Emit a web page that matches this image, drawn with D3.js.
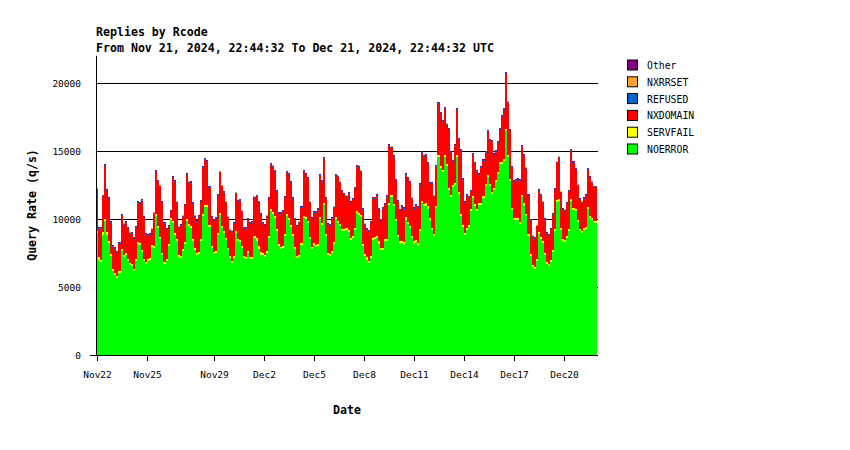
<!DOCTYPE html>
<html>
<head>
<meta charset="utf-8">
<script src="https://cdn.jsdelivr.net/npm/d3@7"></script>
<style>
  body { margin: 0; background: #fff; }
  text { font-family: "DejaVu Sans Mono", monospace; }
</style>
</head>
<body>
<div id="chart"></div>
<script>
// series, one value per column (~3h)
var noerror = [
  8970, 7010, 6840, 8850, 9830, 8850, 8240, 7260, 6150, 5910, 5660, 6030, 7670, 7180, 7330, 6890, 6640, 6520, 6200, 6890,
  8190, 8090, 7550, 6890, 6690, 6890, 7010, 7920, 7870, 10250, 9340, 8530, 7330, 6690, 6890, 7990, 9900, 9710, 8850, 8410,
  7180, 7130, 7620, 8190, 9830, 9460, 9340, 8360, 7750, 7380, 7450, 8410, 10250, 10860, 10860, 9410, 7870, 7430, 7500, 8850,
  10320, 9340, 8970, 8430, 7750, 7130, 6770, 7130, 8970, 8360, 8310, 7870, 7130, 7060, 7500, 7060, 7080, 8600, 8410, 7820, 7380,
  7330, 7180, 7500, 8600, 10610, 10370, 10070, 9090, 7990, 7790, 7870, 8730, 10200, 9950, 9410, 8730, 7820, 7130, 7210, 8060,
  10070, 10000, 9710, 8530, 7790, 8110, 7920, 7990, 10000, 9530, 11050, 8770, 7330, 7260, 7500, 8190, 10000, 9710, 9460, 9090, 9090, 9170,
  9020, 8480, 8600, 9220, 10440, 10320, 10150, 7990, 7260, 7010, 6770, 7130, 8430, 8530, 8600, 8190, 7700, 7700, 8360, 8410,
  11050, 11590, 10980, 9880, 8680, 8190, 8240, 8110, 9950, 9630, 9340, 8600, 8190, 8280, 8040, 9090, 11180, 10930, 10980, 10760, 9880,
  9170, 8770, 10810, 14530, 13750, 13430, 14530, 13920, 12160, 11620, 12330, 12520, 14530, 11860, 10200, 9410, 8850, 9220, 9410, 10560,
  11540, 10930, 10560, 11050, 11050, 11540, 12450, 13110, 12430, 11840, 12160, 12720, 13330, 14070, 14070, 14240, 16450, 14530, 12820, 10640, 9900,
  9950, 9950, 9630, 11590, 10980, 10200, 8730, 7300, 6450, 6320, 6890, 8920, 8550, 8240, 7380, 6690, 6520, 6840, 7550, 9090,
  11250, 11300, 9220, 8360, 8280, 8600, 9140, 11350, 10690, 10560, 9780, 9140, 8970, 9220, 9260, 10760, 10070, 9950, 9710, 9710
];
var nxdomain = [
  3040, 2110, 2280, 2650, 3930, 3020, 3090, 2260, 1650, 1720, 1720, 2010, 2410, 2260, 2240, 2240, 2140, 2210, 2210, 2330,
  2870, 2870, 3630, 3070, 1990, 1700, 1670, 1160, 2380, 3070, 3260, 3710, 3680, 2820, 2160, 1300, 490, 3170, 3750, 2650,
  2040, 2210, 2410, 2630, 3260, 3070, 3140, 2580, 2280, 2240, 2580, 2720, 3340, 3340, 3170, 2700, 2090, 2310, 2360, 2700,
  2950, 2900, 2770, 2630, 2210, 1870, 2160, 2330, 2750, 2770, 2870, 2530, 1990, 2060, 2280, 2430, 2460, 2820, 3090, 3240, 2770,
  2160, 2160, 2530, 2700, 3210, 3340, 3260, 2770, 2240, 2430, 2480, 2700, 3070, 3140, 3070, 2580, 2010, 2160, 2380, 2580,
  3210, 3090, 3090, 2530, 2060, 2160, 2360, 2530, 3040, 3020, 3240, 2550, 2090, 2090, 2330, 2500, 3040, 3260, 3070, 2720, 2530, 2330,
  2650, 2530, 2650, 2820, 3210, 3390, 3190, 2530, 2160, 2040, 2090, 2410, 2900, 2800, 2950, 2330, 2010, 2870, 2530, 3020,
  4170, 3510, 3390, 2770, 2410, 2210, 2460, 2410, 3070, 3140, 3140, 2720, 2330, 2530, 2600, 3260, 3510, 3460, 3510, 3140, 2550,
  3260, 2720, 2850, 3750, 3830, 3560, 3390, 2870, 4240, 3070, 1740, 2700, 3340, 3800, 4690, 3310, 2160, 2330, 2010, 1250,
  3020, 2970, 2750, 2010, 2550, 2550, 2240, 3140, 3140, 3660, 2410, 2040, 2110, 2330, 3260, 3630, 4070, 3880, 3510, 2990, 2700,
  2650, 2770, 2970, 3510, 3460, 3340, 2820, 2360, 2110, 2060, 2410, 2990, 2990, 2820, 2410, 2060, 2110, 2210, 2600, 2900,
  2750, 3070, 2580, 2160, 2190, 2330, 2720, 3510, 3260, 2900, 2530, 2110, 2090, 2110, 2310, 2700, 2820, 2580, 2460, 2460
];
// thin layers, one value per day
var servfail = [160, 150, 140, 150, 150, 150, 140, 150, 150, 160, 150, 140, 150, 150, 150, 150, 160, 150, 170, 160, 150, 140, 150, 150, 150, 160, 150, 150, 150, 150];
var refused  = [70, 70, 70, 70, 70, 70, 70, 70, 70, 70, 70, 70, 70, 70, 70, 70, 80, 80, 90, 80, 80, 70, 70, 70, 70, 80, 70, 70, 70, 70];
var nxrrset  = [10, 10, 10, 10, 10, 10, 10, 10, 10, 10, 10, 10, 10, 10, 10, 10, 10, 10, 10, 10, 10, 10, 10, 10, 10, 10, 10, 10, 10, 10];
var other    = [60, 60, 60, 60, 60, 60, 60, 60, 60, 60, 60, 60, 60, 60, 60, 60, 60, 60, 60, 60, 60, 60, 60, 60, 60, 60, 60, 60, 60, 60];

var keys = ["NOERROR", "SERVFAIL", "NXDOMAIN", "REFUSED", "NXRRSET", "Other"];
var colors = { NOERROR: "#00ff00", SERVFAIL: "#ffff00", NXDOMAIN: "#ff0000", REFUSED: "#0066cc", NXRRSET: "#ffa030", Other: "#800080" };
var yTicks = [0, 5000, 10000, 15000, 20000];
var xTicks = ["2024-11-22", "2024-11-25", "2024-11-29", "2024-12-02", "2024-12-05", "2024-12-08", "2024-12-11", "2024-12-14", "2024-12-17", "2024-12-20"];

var start = Date.UTC(2024, 10, 21, 22, 44, 32);
var end = Date.UTC(2024, 11, 21, 22, 44, 32);
var n = noerror.length;
var step = (end - start) / n;

var rows = noerror.map(function (v, i) {
    var d = Math.floor(i * 30 / n);
    return { t: new Date(start + i * step), NOERROR: v, SERVFAIL: servfail[d], NXDOMAIN: nxdomain[i],
             REFUSED: refused[d], NXRRSET: nxrrset[d], Other: other[d] };
});
// closing point so the last step has its width
rows.push(Object.assign({}, rows[n - 1], { t: new Date(end) }));

var svg = d3.select("#chart").append("svg")
    .attr("width", 850).attr("height", 450)
    .style("background", "#fff");

var x = d3.scaleUtc().domain([new Date(start), new Date(end)]).range([96, 597]);
var y = d3.scaleLinear().domain([0, 22000]).range([355, 55.8]);

// grid lines sit behind the areas
svg.append("g").selectAll("line").data(yTicks).enter().append("line")
    .attr("x1", 96).attr("x2", 598)
    .attr("y1", function (d) { return Math.round(y(d)) + 0.5; })
    .attr("y2", function (d) { return Math.round(y(d)) + 0.5; })
    .attr("stroke", "#000").attr("stroke-width", 1);

var series = d3.stack().keys(keys)(rows);
var area = d3.area()
    .curve(d3.curveStepAfter)
    .x(function (d) { return x(d.data.t); })
    .y0(function (d) { return y(d[0]); })
    .y1(function (d) { return y(d[1]); });

svg.append("g").selectAll("path").data(series).enter().append("path")
    .attr("d", area)
    .attr("fill", function (d) { return colors[d.key]; })
    .attr("shape-rendering", "crispEdges");

// left axis line + zero tick
svg.append("line").attr("x1", 96.5).attr("x2", 96.5).attr("y1", y(22000)).attr("y2", 356)
    .attr("stroke", "#000");
svg.append("line").attr("x1", 90).attr("x2", 96).attr("y1", 355.5).attr("y2", 355.5)
    .attr("stroke", "#000");

svg.append("g").selectAll("text").data(yTicks).enter().append("text")
    .attr("x", 81).attr("y", function (d) { return y(d) + 3.5; })
    .attr("text-anchor", "end").attr("font-size", "9.5px")
    .text(function (d) { return d; });

// x ticks
var xg = svg.append("g");
xTicks.forEach(function (s) {
    var px = Math.round(x(new Date(s + "T00:00:00Z"))) + 0.5;
    xg.append("line").attr("x1", px).attr("x2", px).attr("y1", 355).attr("y2", 361).attr("stroke", "#000");
    xg.append("text").attr("x", px).attr("y", 378).attr("text-anchor", "middle").attr("font-size", "9.5px")
        .text(d3.utcFormat("%b%-d")(new Date(s + "T00:00:00Z")));
});

// titles
svg.append("text").attr("x", 96).attr("y", 36).attr("font-size", "11.6px").attr("font-weight", "bold")
    .text("Replies by Rcode");
svg.append("text").attr("x", 96).attr("y", 52).attr("font-size", "11.6px").attr("font-weight", "bold")
    .text("From Nov 21, 2024, 22:44:32 To Dec 21, 2024, 22:44:32 UTC");
svg.append("text").attr("x", 347).attr("y", 414).attr("text-anchor", "middle")
    .attr("font-size", "11.6px").attr("font-weight", "bold").text("Date");
svg.append("text").attr("transform", "translate(36,205) rotate(-90)").attr("text-anchor", "middle")
    .attr("font-size", "11.6px").attr("font-weight", "bold").text("Query Rate (q/s)");

// legend, top entry is the top layer
var legendKeys = keys.slice().reverse();
var lg = svg.append("g").selectAll("g").data(legendKeys).enter().append("g")
    .attr("transform", function (d, i) { return "translate(627," + (59.5 + i * 16.8) + ")"; });
lg.append("rect").attr("x", 0.5).attr("y", 0.5).attr("width", 10).attr("height", 10)
    .attr("fill", function (d) { return colors[d]; }).attr("stroke", "#000");
lg.append("text").attr("x", 20).attr("y", 9.5).attr("font-size", "9.8px").text(function (d) { return d; });
</script>
</body>
</html>
